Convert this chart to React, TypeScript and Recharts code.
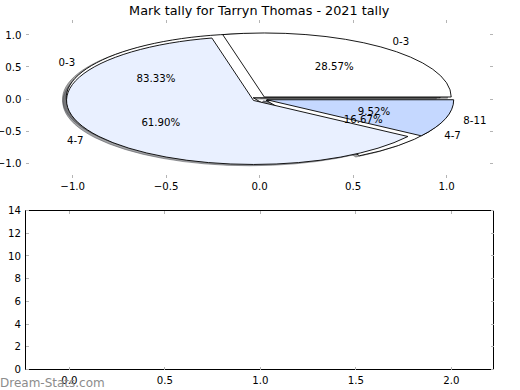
import React from 'react';
import { LineChart, ScatterChart, Scatter, XAxis, YAxis, PieChart, Pie } from 'recharts';

// ---------- data ----------
const titleText = 'Mark tally for Tarryn Thomas - 2021 tally';
const watermarkText = 'Dream-Stats.com';

// upper pie (drawn on top)
const tally2021Labels = ['0-3', '4-7', '8-11'];
const tally2021Values = [6, 13, 2];
const tally2021Colors = ['#ffffff', '#e9f0ff', '#c5d8ff'];

// lower pie (drawn underneath)
const tallyPrevLabels = ['0-3', '4-7'];
const tallyPrevValues = [5, 1];
const tallyPrevColors = ['#ffffff', '#ffffff'];

const pieXTicks = [-1, -0.5, 0, 0.5, 1];
const pieYTicks = [-1, -0.5, 0, 0.5, 1];
const lowerXTicks = [0, 0.5, 1, 1.5, 2];
const lowerYTicks = [0, 2, 4, 6, 8, 10, 12, 14];
const lowerSeries: { x: number; y: number }[] = [];

// ---------- layout ----------
const FONT = 'DejaVu Sans';
const TICK_FONT = 10.2;
const TICK_COLOR = '#b4b4b4';
const TICK_LEN = 3;

const TOP_W = 520;
const TOP_H = 200;
const TOP_LEFT = 26;
const TOP_RIGHT = 493.3;
const TOP_TOP = 20;
const TOP_BOTTOM = 178;
const TOP_XHALF = 1.25;
const TOP_YHALF = 1.234;

const PX_X = (TOP_RIGHT - TOP_LEFT) / (2 * TOP_XHALF);
const PX_Y = (TOP_BOTTOM - TOP_TOP) / (2 * TOP_YHALF);
const PIE_CX = (TOP_LEFT + TOP_RIGHT) / 2;
const PIE_CY = (TOP_TOP + TOP_BOTTOM) / 2;
const PIE_R = PX_X;
const PIE_K = PX_Y / PX_X;
const EXPLODE = 0.04;
const SHADOW = 0.02;

const LOW_TOP_OFFSET = 195;
const LOW_W = 520;
const LOW_H = 195;
const LOW_LEFT = 25.5;
const LOW_RIGHT = 493.5;
const LOW_TOP = 15.5;
const LOW_BOTTOM = 174.5;

const RAD = Math.PI / 180;

// ---------- helpers ----------
const fmt1 = (v: number) => (v < 0 ? '\u2212' : '') + Math.abs(v).toFixed(1);
const fmtInt = (v: number) => String(v);

type Side = 'bottom' | 'top' | 'left' | 'right';
const makeTick = (side: Side, fmt: ((v: number) => string) | null, baseGap: number) =>
  (props: any) => {
    const { x, y, payload } = props;
    const v = payload.value as number;
    let l = { x1: x, y1: y, x2: x, y2: y };
    if (side === 'bottom') l = { x1: x, y1: y, x2: x, y2: y - TICK_LEN };
    if (side === 'top') l = { x1: x, y1: y, x2: x, y2: y + TICK_LEN };
    if (side === 'left') l = { x1: x, y1: y, x2: x + TICK_LEN, y2: y };
    if (side === 'right') l = { x1: x, y1: y, x2: x - TICK_LEN, y2: y };
    let label: React.ReactNode = null;
    if (fmt) {
      if (side === 'bottom') {
        label = (
          <text x={x} y={y + baseGap} textAnchor="middle" fontFamily={FONT} fontSize={TICK_FONT} fill="#000">
            {fmt(v)}
          </text>
        );
      } else if (side === 'left') {
        label = (
          <text x={x - baseGap} y={y + 3.7} textAnchor="end" fontFamily={FONT} fontSize={TICK_FONT} fill="#000">
            {fmt(v)}
          </text>
        );
      }
    }
    return (
      <g>
        <line {...l} stroke={TICK_COLOR} strokeWidth={1} shapeRendering="crispEdges" />
        {label}
      </g>
    );
  };

function wedgePath(p: any, explode: number, dx: number, dy: number) {
  const rx = p.outerRadius;
  const ry = p.outerRadius * PIE_K;
  const mid = ((p.startAngle + p.endAngle) / 2) * RAD;
  const ox = p.cx + explode * rx * Math.cos(mid) + dx;
  const oy = p.cy - explode * ry * Math.sin(mid) + dy;
  const a0 = p.startAngle * RAD;
  const a1 = p.endAngle * RAD;
  const x0 = ox + rx * Math.cos(a0);
  const y0 = oy - ry * Math.sin(a0);
  const x1 = ox + rx * Math.cos(a1);
  const y1 = oy - ry * Math.sin(a1);
  const large = Math.abs(p.endAngle - p.startAngle) > 180 ? 1 : 0;
  return `M${ox},${oy}L${x0},${y0}A${rx},${ry} 0 ${large} 0 ${x1},${y1}Z`;
}

function shade(hex: string) {
  const n = parseInt(hex.slice(1), 16);
  const r = Math.round(((n >> 16) & 255) * 0.3);
  const g = Math.round(((n >> 8) & 255) * 0.3);
  const b = Math.round((n & 255) * 0.3);
  return `rgb(${r},${g},${b})`;
}

const shadowLabel = (colors: string[]) => (p: any) => {
  const c = shade(colors[p.index]);
  const d = wedgePath(p, EXPLODE, -SHADOW * p.outerRadius, SHADOW * p.outerRadius * PIE_K);
  return <path d={d} fill={c} fillOpacity={0.5} stroke={c} strokeOpacity={0.5} strokeWidth={1} />;
};

const wedgeLabel = (colors: string[]) => (p: any) => {
  const d = wedgePath(p, EXPLODE, 0, 0);
  return <path d={d} fill={colors[p.index]} stroke="#000" strokeWidth={0.9} strokeLinejoin="round" />;
};

const textLabel = (p: any) => {
  const rx = p.outerRadius;
  const ry = p.outerRadius * PIE_K;
  const mid = ((p.startAngle + p.endAngle) / 2) * RAD;
  const c = Math.cos(mid);
  const s = Math.sin(mid);
  const ln = 1.1 + EXPLODE;
  const pc = 0.6 + EXPLODE;
  const lx = p.cx + ln * rx * c;
  const ly = p.cy - ln * ry * s;
  const px = p.cx + pc * rx * c;
  const py = p.cy - pc * ry * s;
  return (
    <g>
      <text x={lx} y={ly} textAnchor={c > 0 ? 'start' : 'end'} dominantBaseline="central" fontFamily={FONT} fontSize={TICK_FONT} fill="#000">
        {p.name}
      </text>
      <text x={px} y={py} textAnchor="middle" dominantBaseline="central" fontFamily={FONT} fontSize={TICK_FONT} fill="#000">
        {(p.percent * 100).toFixed(2) + '%'}
      </text>
    </g>
  );
};

const pie2021Data = tally2021Labels.map((name, i) => ({ name, value: tally2021Values[i] }));
const piePrevData = tallyPrevLabels.map((name, i) => ({ name, value: tallyPrevValues[i] }));

const pieCommon = {
  dataKey: 'value',
  nameKey: 'name',
  cx: PIE_CX,
  cy: PIE_CY,
  innerRadius: 0,
  outerRadius: PIE_R,
  startAngle: 0,
  endAngle: 360,
  isAnimationActive: false,
  fill: 'none',
  stroke: 'none',
  labelLine: false,
  legendType: 'none' as const,
};

export default function App() {
  return (
    <div style={{ position: 'absolute', left: 0, top: 0, width: 520, height: 390, background: '#fff', overflow: 'hidden' }}>
      {/* upper axes */}
      <div style={{ position: 'absolute', left: 0, top: 0 }}>
        <LineChart width={TOP_W} height={TOP_H} data={[]} margin={{ top: 0, right: 0, bottom: 0, left: 0 }}>
          <XAxis
            xAxisId="b"
            type="number"
            dataKey="x"
            orientation="bottom"
            domain={[-TOP_XHALF, TOP_XHALF]}
            allowDataOverflow
            ticks={pieXTicks}
            interval={0}
            height={TOP_H - TOP_BOTTOM}
            axisLine={false}
            tickLine={false}
            tickSize={0}
            tickMargin={0}
            tick={makeTick('bottom', fmt1, 12)}
          />
          <XAxis
            xAxisId="t"
            type="number"
            dataKey="x"
            orientation="top"
            domain={[-TOP_XHALF, TOP_XHALF]}
            allowDataOverflow
            ticks={pieXTicks}
            interval={0}
            height={TOP_TOP}
            axisLine={false}
            tickLine={false}
            tickSize={0}
            tickMargin={0}
            tick={makeTick('top', null, 0)}
          />
          <YAxis
            yAxisId="l"
            type="number"
            dataKey="y"
            orientation="left"
            domain={[-TOP_YHALF, TOP_YHALF]}
            allowDataOverflow
            ticks={pieYTicks}
            interval={0}
            width={TOP_LEFT}
            axisLine={false}
            tickLine={false}
            tickSize={0}
            tickMargin={0}
            tick={makeTick('left', fmt1, 4.5)}
          />
          <YAxis
            yAxisId="r"
            type="number"
            dataKey="y"
            orientation="right"
            domain={[-TOP_YHALF, TOP_YHALF]}
            allowDataOverflow
            ticks={pieYTicks}
            interval={0}
            width={TOP_W - TOP_RIGHT}
            axisLine={false}
            tickLine={false}
            tickSize={0}
            tickMargin={0}
            tick={makeTick('right', null, 0)}
          />
        </LineChart>
      </div>

      {/* pies */}
      <div style={{ position: 'absolute', left: 0, top: 0 }}>
        <PieChart width={TOP_W} height={TOP_H} margin={{ top: 0, right: 0, bottom: 0, left: 0 }}>
          <Pie {...pieCommon} data={piePrevData} label={shadowLabel(tallyPrevColors)} />
          <Pie {...pieCommon} data={pie2021Data} label={shadowLabel(tally2021Colors)} />
          <Pie {...pieCommon} data={piePrevData} label={wedgeLabel(tallyPrevColors)} />
          <Pie {...pieCommon} data={pie2021Data} label={wedgeLabel(tally2021Colors)} />
          <Pie {...pieCommon} data={piePrevData} label={textLabel} />
          <Pie {...pieCommon} data={pie2021Data} label={textLabel} />
        </PieChart>
      </div>

      {/* title */}
      <svg width={520} height={20} style={{ position: 'absolute', left: 0, top: 0 }}>
        <text x={259.2} y={14.5} textAnchor="middle" fontFamily={FONT} fontSize={12.8} fill="#000">
          {titleText}
        </text>
      </svg>

      {/* lower axes */}
      <div style={{ position: 'absolute', left: 0, top: LOW_TOP_OFFSET }}>
        <ScatterChart width={LOW_W} height={LOW_H} margin={{ top: 0, right: 0, bottom: 0, left: 0 }}>
          <XAxis
            xAxisId="b"
            type="number"
            dataKey="x"
            orientation="bottom"
            domain={[-0.23, 2.22]}
            allowDataOverflow
            ticks={lowerXTicks}
            interval={0}
            height={LOW_H - LOW_BOTTOM}
            axisLine={{ stroke: '#000', strokeWidth: 1 }}
            tickLine={false}
            tickSize={0}
            tickMargin={0}
            tick={makeTick('bottom', fmt1, 14)}
          />
          <XAxis
            xAxisId="t"
            type="number"
            dataKey="x"
            orientation="top"
            domain={[-0.23, 2.22]}
            allowDataOverflow
            ticks={lowerXTicks}
            interval={0}
            height={LOW_TOP}
            axisLine={{ stroke: '#000', strokeWidth: 1 }}
            tickLine={false}
            tickSize={0}
            tickMargin={0}
            tick={makeTick('top', null, 0)}
          />
          <YAxis
            yAxisId="l"
            type="number"
            dataKey="y"
            orientation="left"
            domain={[0, 14]}
            allowDataOverflow
            ticks={lowerYTicks}
            interval={0}
            width={LOW_LEFT}
            axisLine={{ stroke: '#000', strokeWidth: 1 }}
            tickLine={false}
            tickSize={0}
            tickMargin={0}
            tick={makeTick('left', fmtInt, 4.5)}
          />
          <YAxis
            yAxisId="r"
            type="number"
            dataKey="y"
            orientation="right"
            domain={[0, 14]}
            allowDataOverflow
            ticks={lowerYTicks}
            interval={0}
            width={LOW_W - LOW_RIGHT}
            axisLine={{ stroke: '#000', strokeWidth: 1 }}
            tickLine={false}
            tickSize={0}
            tickMargin={0}
            tick={makeTick('right', null, 0)}
          />
          <Scatter data={lowerSeries} xAxisId="b" yAxisId="l" isAnimationActive={false} fill="#000" />
        </ScatterChart>
      </div>

      {/* watermark */}
      <svg width={520} height={30} style={{ position: 'absolute', left: 0, top: 360 }}>
        <text x={0} y={27} fontFamily={FONT} fontSize={12} fill="#8c8c8c">
          {watermarkText}
        </text>
      </svg>
    </div>
  );
}
